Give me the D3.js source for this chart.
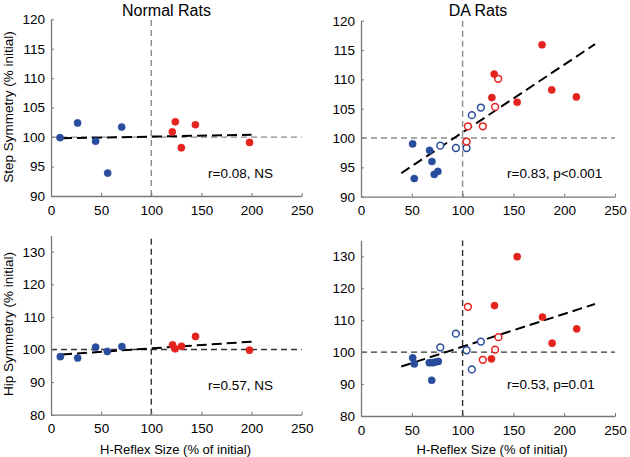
<!DOCTYPE html>
<html><head><meta charset="utf-8">
<script src="https://cdn.jsdelivr.net/npm/d3@7"></script>
<style>body{margin:0;background:#fff;} svg{display:block;} text{font-family:"Liberation Sans",Arial,Helvetica,sans-serif;}</style>
</head><body>
<svg id="chart" width="630" height="457"></svg>
<script>
// ---- Data (H-reflex size %, symmetry % initial) ----
const xTicks = [0, 50, 100, 150, 200, 250];
const stepTicks = [90, 95, 100, 105, 110, 115, 120];
const hipTicks = [80, 90, 100, 110, 120, 130];

// Normal rats – step symmetry
const normalStepBlue = [[9, 99.9], [26.5, 102.4], [44.5, 99.3], [56.5, 93.9], [70.5, 101.7]];
const normalStepRed = [[121, 100.9], [124, 102.6], [130, 98.2], [144, 102.1], [198, 99.1]];
const normalStepFit = [[11, 99.8], [200, 100.4]];

// DA rats – step symmetry
const daStepBlueFilled = [[50.8, 99.0], [52.4, 93.1], [67.5, 97.9], [69.8, 96.0], [72.1, 93.8], [75.7, 94.3]];
const daStepBlueOpen = [[78, 98.7], [93.4, 98.3], [103.9, 98.3], [109.1, 103.9], [118, 105.2]];
const daStepRedOpen = [[103.9, 99.4], [105.2, 102.0], [119.9, 102.0], [132, 105.3], [135, 110.1]];
const daStepRedFilled = [[128.8, 106.9], [131.1, 110.9], [153.7, 106.1], [178.2, 115.9], [187.7, 108.2], [212, 107.0]];
const daStepFit = [[39.6, 94.0], [230.3, 116.0]];

// Normal rats – hip symmetry
const normalHipBlue = [[9.3, 97.8], [26.6, 97.4], [44.5, 100.7], [56.1, 99.4], [70.7, 100.9]];
const normalHipRed = [[121.2, 101.4], [123.8, 100.2], [130.1, 101.0], [144.1, 104.0], [197.9, 99.8]];
const normalHipFit = [[11, 98.5], [200, 102.4]];

// DA rats – hip symmetry
const daHipBlueFilled = [[50.9, 98.2], [52.5, 96.3], [67.2, 96.7], [70.6, 96.7], [73.1, 96.9], [76.1, 97.1], [69.6, 91.2]];
const daHipBlueOpen = [[78, 101.5], [93.4, 105.8], [103.9, 100.6], [109.1, 94.6], [118, 103.3]];
const daHipRedOpen = [[105.2, 114.2], [119.9, 97.6], [132, 100.8], [135.3, 104.7]];
const daHipRedFilled = [[128.4, 97.9], [131.4, 114.6], [153.7, 129.9], [178.6, 111.0], [188.1, 102.8], [212.3, 107.3]];
const daHipFit = [[39.6, 95.5], [230.3, 115.1]];

const titles = ["Normal Rats", "DA Rats"];
const stats = ["r=0.08, NS", "r=0.83, p<0.001", "r=0.57, NS", "r=0.53, p=0.01"];
const yLabels = ["Step Symmetry (% initial)", "Hip Symmetry (% initial)"];
const xLabel = "H-Reflex Size (% of initial)";

// ---- Drawing ----
const BLUE = "#2a4c9c", RED = "#e4231f";
const svg = d3.select("#chart");
const FS = 13.5;

const panels = [
  {x0: 51, x1: 301.7, yTop: 19.3, yBot: 196, dom: [90, 120], ticks: stepTicks, refColor: "#8a8a8a",
   groups: [[normalStepBlue, BLUE, true], [normalStepRed, RED, true]], fit: normalStepFit, stat: stats[0], statX: 208, statY: 178},
  {x0: 361, x1: 615, yTop: 20.7, yBot: 196.7, dom: [90, 120], ticks: stepTicks, refColor: "#8a8a8a",
   groups: [[daStepBlueFilled, BLUE, true], [daStepBlueOpen, BLUE, false], [daStepRedOpen, RED, false], [daStepRedFilled, RED, true]], fit: daStepFit, stat: stats[1], statX: 507, statY: 178},
  {x0: 51, x1: 301.7, yTop: 235.4, yBot: 414.7, dom: [80, 135], ticks: hipTicks, refColor: "#333",
   groups: [[normalHipBlue, BLUE, true], [normalHipRed, RED, true]], fit: normalHipFit, stat: stats[2], statX: 208, statY: 390},
  {x0: 361, x1: 615, yTop: 240.4, yBot: 416, dom: [80, 135], ticks: hipTicks, refColor: "#333",
   groups: [[daHipBlueFilled, BLUE, true], [daHipBlueOpen, BLUE, false], [daHipRedOpen, RED, false], [daHipRedFilled, RED, true]], fit: daHipFit, stat: stats[3], statX: 507, statY: 389}
];

panels.forEach((p, i) => {
  const x = d3.scaleLinear().domain([0, 250]).range([p.x0, p.x1]);
  const y = d3.scaleLinear().domain(p.dom).range([p.yBot, p.yTop]);
  const g = svg.append("g");

  // reference lines
  g.append("line").attr("x1", x(0)).attr("x2", x(250)).attr("y1", y(100)).attr("y2", y(100))
    .attr("stroke", p.refColor).attr("stroke-width", 1.4).attr("stroke-dasharray", "6,4");
  g.append("line").attr("x1", x(100)).attr("x2", x(100)).attr("y1", y(p.dom[0])).attr("y2", y(p.dom[1]))
    .attr("stroke", p.refColor).attr("stroke-width", 1.4).attr("stroke-dasharray", "6,4");

  // axes
  const ax = g.append("g").attr("transform", `translate(0,${y(p.dom[0])})`)
    .call(d3.axisBottom(x).tickValues(xTicks).tickSizeInner(-3).tickSizeOuter(0).tickPadding(9));
  const ay = g.append("g").attr("transform", `translate(${x(0)},0)`)
    .call(d3.axisLeft(y).tickValues(p.ticks).tickSizeInner(-3).tickSizeOuter(0).tickPadding(6));
  [ax, ay].forEach(a => {
    a.select(".domain").attr("stroke", "#777").attr("stroke-width", 1.3);
    a.selectAll(".tick line").attr("stroke", "#777").attr("stroke-width", 1);
    a.selectAll(".tick text").attr("fill", "#000").style("font-size", FS + "px")
      .style("font-family", '"Liberation Sans",Arial,Helvetica,sans-serif');
  });

  // regression line
  g.append("path").datum(p.fit)
    .attr("d", d3.line().x(d => x(d[0])).y(d => y(d[1])))
    .attr("stroke", "#000").attr("stroke-width", 2).attr("fill", "none").attr("stroke-dasharray", "10,5");

  // points
  p.groups.forEach(([data, color, filled]) => {
    g.selectAll(null).data(data).enter().append("circle")
      .attr("cx", d => x(d[0])).attr("cy", d => y(d[1]))
      .attr("r", filled ? 3.6 : 3.4)
      .attr("fill", filled ? color : "#fff")
      .attr("stroke", color).attr("stroke-width", filled ? 0.5 : 1.5);
  });

  // stat text
  g.append("text").attr("x", p.statX).attr("y", p.statY).style("font-size", FS + "px").text(p.stat);
});

// titles
svg.append("text").attr("x", 166.5).attr("y", 15.5).attr("text-anchor", "middle").style("font-size", "16px").text(titles[0]);
svg.append("text").attr("x", 478).attr("y", 15.5).attr("text-anchor", "middle").style("font-size", "16px").text(titles[1]);

// y labels
svg.append("text").attr("transform", "translate(12.5,107) rotate(-90)").attr("text-anchor", "middle").style("font-size", FS + "px").text(yLabels[0]);
svg.append("text").attr("transform", "translate(12.5,324) rotate(-90)").attr("text-anchor", "middle").style("font-size", FS + "px").text(yLabels[1]);

// x labels
svg.append("text").attr("x", 175.5).attr("y", 453.5).attr("text-anchor", "middle").style("font-size", "13px").text(xLabel);
svg.append("text").attr("x", 492).attr("y", 453.5).attr("text-anchor", "middle").style("font-size", "13px").text(xLabel);
</script>
</body></html>
